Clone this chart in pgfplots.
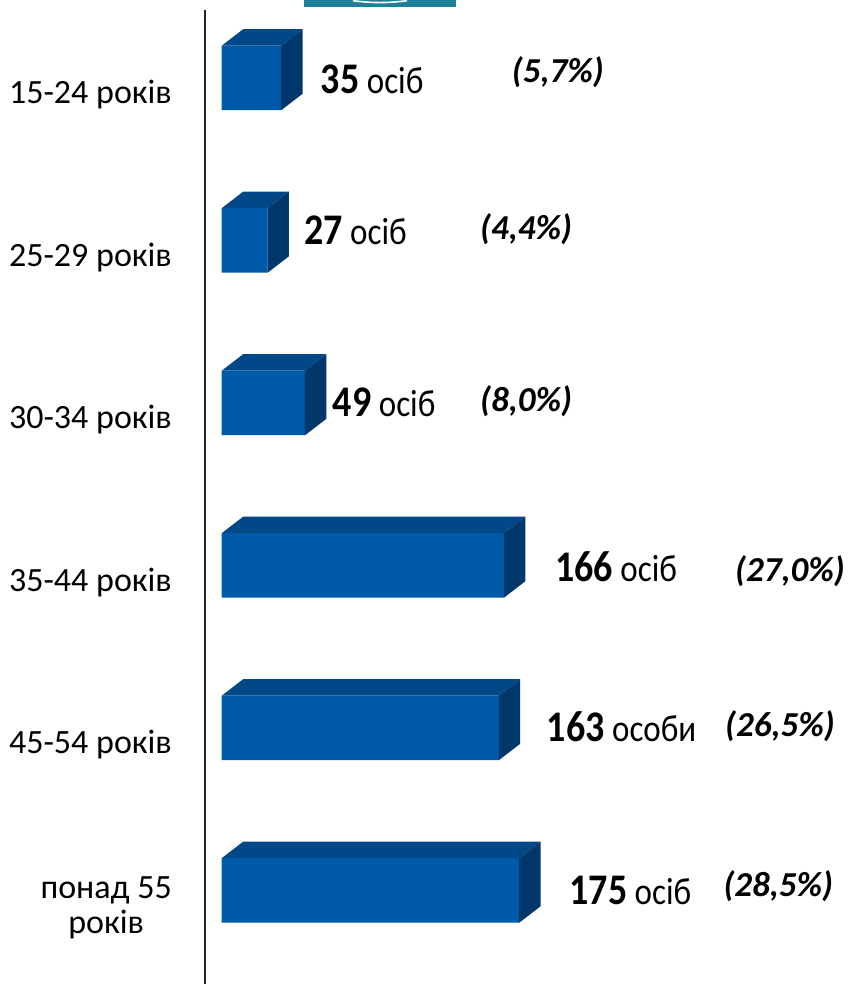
\documentclass[border=0pt]{standalone}
\usepackage{graphicx}
\usepackage{fontspec}
\setmainfont{Carlito}
\usepackage{pgfplots}
\pgfplotsset{compat=1.18}
\usepackage{pgfplotstable}

\definecolor{frontc}{RGB}{0,90,170}
\definecolor{topc}{RGB}{0,72,135}
\definecolor{sidec}{RGB}{0,56,108}
\definecolor{tealc}{RGB}{31,127,153}

\pgfplotstableread{
y v
6 35
5 27
4 49
3 166
2 163
1 175
}\bars

\newcommand{\vl}[2]{\scalebox{1}[1.15]{\fontsize{38}{40}\selectfont\bfseries #1\fontsize{33}{40}\selectfont\mdseries\ #2}}
\newcommand{\pc}[1]{{\fontsize{35}{40}\selectfont\bfseries\itshape #1}}

\begin{document}
\begin{tikzpicture}[x=1pt,y=1pt]
\useasboundingbox (0pt,0pt) rectangle (856pt,984pt);
% decorative teal strip at the top
\fill[tealc] (304pt,984pt) rectangle (456pt,977.3pt);
\draw[white, line width=1.6pt] (353pt,983.3pt) .. controls (372pt,980.8pt) and (388pt,980.8pt) .. (407pt,983.3pt);

\begin{axis}[
  at={(205pt,0pt)}, anchor=south west,
  scale only axis, width=651pt, height=974pt,
  xmin=-9.8, xmax=373.1,
  ymin=0.529, ymax=6.523,
  axis x line=none,
  axis y line=left,
  axis line style={-, line width=1.8pt, black!85},
  ytick={1,2,3,4,5,6},
  yticklabels={{понад 55\\років},{45-54 років},{35-44 років},{30-34 років},{25-29 років},{15-24 років}},
  ytick style={draw=none},
  major tick length=0pt,
  yticklabel style={anchor=east, inner sep=0pt, xshift=-33pt, align=center,
    font=\fontsize{34}{35}\selectfont, text=black},
  clip=false,
]
% front faces
\addplot[xbar, bar width=0.397, bar shift=0.1045, fill=frontc, draw=none]
  table[x=v, y=y]{\bars};
% top and side faces, drawn from each bar's top-right front corner
\addplot[only marks, scatter, mark=*, mark size=0.01pt,
  visualization depends on={\thisrow{v} \as \barlen},
  scatter/@pre marker code/.code={%
    \pgfmathsetmacro\bla{-\barlen}%
    \pgfmathsetmacro\blb{-\barlen+12.6}%
    \fill[topc, fill opacity=1, draw=none] (axis direction cs:\bla,0) -- (axis direction cs:\blb,0.1015)
       -- (axis direction cs:12.6,0.1015) -- (0pt,0pt) -- cycle;
    \fill[sidec, fill opacity=1, draw=none] (0pt,0pt) -- (axis direction cs:12.6,0.1015)
       -- (axis direction cs:12.6,-0.2955) -- (axis direction cs:0,-0.397) -- cycle;
    \pgfsetfillcolor{sidec}\pgfsetstrokecolor{sidec}%
  },
  scatter/@post marker code/.code={},
] table[x=v, y expr=\thisrow{y}+0.303]{\bars};
\end{axis}

% value labels
\node[anchor=base west, inner sep=0pt] at (320.7pt, 890.7pt) {\vl{35}{осіб}};
\node[anchor=base west, inner sep=0pt] at (304.0pt, 739.7pt) {\vl{27}{осіб}};
\node[anchor=base west, inner sep=0pt] at (332.7pt, 567.3pt) {\vl{49}{осіб}};
\node[anchor=base west, inner sep=0pt] at (555.0pt, 402.3pt) {\vl{166}{осіб}};
\node[anchor=base west, inner sep=0pt] at (546.7pt, 242.3pt) {\vl{163}{особи}};
\node[anchor=base west, inner sep=0pt] at (569.3pt, 79.0pt) {\vl{175}{осіб}};
% percentage labels
\node[anchor=base west, inner sep=0pt] at (511.7pt, 901.7pt) {\pc{(5,7\%)}};
\node[anchor=base west, inner sep=0pt] at (480.0pt, 744.7pt) {\pc{(4,4\%)}};
\node[anchor=base west, inner sep=0pt] at (480.0pt, 572.3pt) {\pc{(8,0\%)}};
\node[anchor=base west, inner sep=0pt] at (735.0pt, 402.3pt) {\pc{(27,0\%)}};
\node[anchor=base west, inner sep=0pt] at (725.0pt, 247.3pt) {\pc{(26,5\%)}};
\node[anchor=base west, inner sep=0pt] at (723.3pt, 87.3pt) {\pc{(28,5\%)}};
\end{tikzpicture}
\end{document}
